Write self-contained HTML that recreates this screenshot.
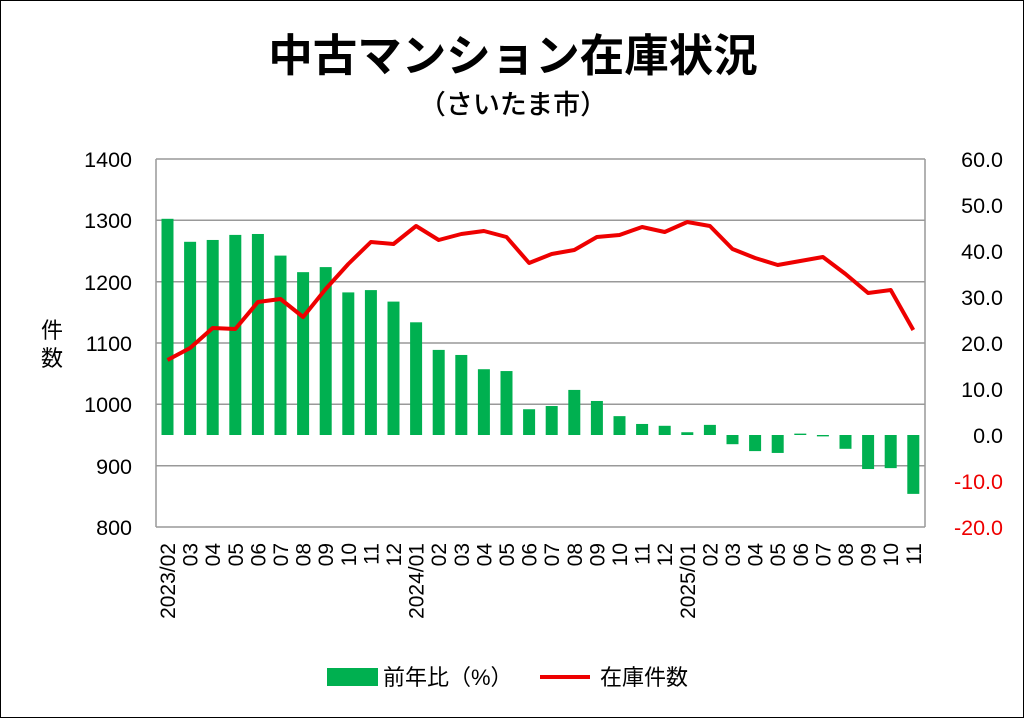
<!DOCTYPE html><html><head><meta charset="utf-8"><style>body{margin:0;background:#fff}svg{display:block}text{font-family:"Liberation Sans","Noto Sans CJK JP",sans-serif}</style></head><body>
<svg width="1024" height="718" xmlns="http://www.w3.org/2000/svg">
<rect x="0.5" y="0.5" width="1023" height="717" fill="#fff" stroke="#000"/>
<text x="513" y="71" font-size="44.5" font-weight="bold" text-anchor="middle" font-family="Noto Sans CJK JP,sans-serif">中古マンション在庫状況</text>
<text x="513" y="114" font-size="27" font-weight="500" text-anchor="middle" font-family="Noto Sans CJK JP,sans-serif">（さいたま市）</text>
<g stroke="#999" stroke-width="1.5">
<line x1="156" y1="159" x2="925" y2="159"/><line x1="156" y1="220.3" x2="925" y2="220.3"/><line x1="156" y1="281.7" x2="925" y2="281.7"/><line x1="156" y1="343" x2="925" y2="343"/><line x1="156" y1="404.3" x2="925" y2="404.3"/><line x1="156" y1="465.7" x2="925" y2="465.7"/><line x1="156" y1="527" x2="925" y2="527"/>
<line x1="156" y1="159" x2="156" y2="527"/><line x1="925" y1="159" x2="925" y2="527"/>
</g>
<g font-size="21.5" text-anchor="end">
<text x="132" y="167">1400</text><text x="132" y="228">1300</text><text x="132" y="290">1200</text><text x="132" y="351">1100</text><text x="132" y="412">1000</text><text x="132" y="474">900</text><text x="132" y="535">800</text>
</g>
<g font-size="21.5" text-anchor="end">
<text x="1003" y="167">60.0</text><text x="1003" y="213">50.0</text><text x="1003" y="259">40.0</text><text x="1003" y="305">30.0</text><text x="1003" y="351">20.0</text><text x="1003" y="397">10.0</text><text x="1003" y="443">0.0</text><text x="1003" y="489" fill="#e00">-10.0</text><text x="1003" y="535" fill="#e00">-20.0</text>
</g>
<text x="52" y="338" font-size="22" text-anchor="middle" font-family="Noto Sans CJK JP,sans-serif">件</text>
<text x="52" y="366" font-size="22" text-anchor="middle" font-family="Noto Sans CJK JP,sans-serif">数</text>
<g id="bars" fill="#00b050"></g>
<polyline id="ln" fill="none" stroke="#e00" stroke-width="4" stroke-linejoin="round"></polyline>
<g id="lbl" font-size="21"></g>
<rect x="327" y="668" width="51" height="18" fill="#00b050"/>
<text x="383" y="685" font-size="22" font-family="Noto Sans CJK JP,sans-serif">前年比（%）</text>
<line x1="540" y1="677" x2="590" y2="677" stroke="#e00" stroke-width="4"/>
<text x="600" y="685" font-size="22" font-family="Noto Sans CJK JP,sans-serif">在庫件数</text>
</svg>
<script>
var b=[47,42,42.4,43.5,43.7,39,35.4,36.5,31,31.5,29,24.5,18.5,17.4,14.3,13.9,5.6,6.3,9.8,7.4,4.1,2.4,2,0.6,2.2,-2,-3.5,-3.9,0.3,-0.3,-3,-7.4,-7.2,-12.8];
var l=[360,348,328,329,302,299,317,289,264,242,244,226,240,234,231,237,263,254,250,237,235,227,232,222,226,249,258,265,261,257,274,293,290,330];
var labs=["2023/02","03","04","05","06","07","08","09","10","11","12","2024/01","02","03","04","05","06","07","08","09","10","11","12","2025/01","02","03","04","05","06","07","08","09","10","11"];
var ns="http://www.w3.org/2000/svg",g=document.getElementById("bars"),lg=document.getElementById("lbl"),pts=[];
for(var i=0;i<34;i++){var cx=167.5+i*22.6;var h=b[i]*4.6;var r=document.createElementNS(ns,"rect");
r.setAttribute("x",cx-6);r.setAttribute("width",12);r.setAttribute("y",h>0?435-h:435);r.setAttribute("height",Math.abs(h));g.appendChild(r);
pts.push(cx+","+l[i]);
var t=document.createElementNS(ns,"text");t.setAttribute("transform","translate("+(cx+7.5)+",543) rotate(-90)");t.setAttribute("text-anchor","end");t.textContent=labs[i];lg.appendChild(t);}
document.getElementById("ln").setAttribute("points",pts.join(" "));
</script>
</body></html>
